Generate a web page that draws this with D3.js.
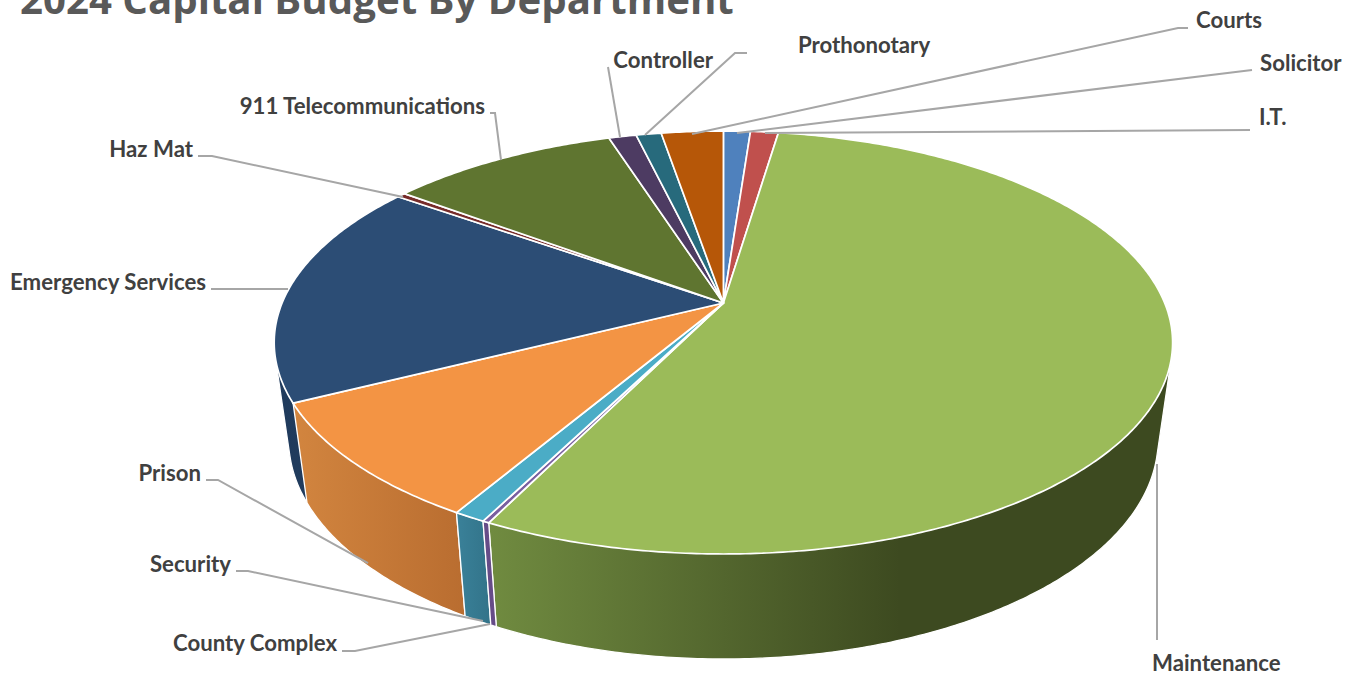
<!DOCTYPE html>
<html><head><meta charset="utf-8">
<script src="https://cdn.jsdelivr.net/npm/d3@7"></script>
<style>html,body{margin:0;padding:0;background:#fff;overflow:hidden}svg{display:block}</style>
</head><body><svg id="c" width="1353" height="675"></svg>
<script>
// ---- data (share of budget, %)
const titleText = "2024 Capital Budget By Department";
const departments = ["Solicitor","I.T.","Maintenance","County Complex","Security","Prison","Emergency Services","Haz Mat","911 Telecommunications","Controller","Prothonotary","Courts"];
const shares = [1.16,1.2,54.9,0.2,0.97,9.1,17.2,0.36,9.9,1.19,1.08,2.67];

// ---- styles
const topColors = ["#4f81bd","#c0504d","#9bbb59","#7a5fa0","#4bacc6","#f39444","#2c4d75","#772c2a","#5f7530","#4d3b62","#276a7c","#b65708"];
const wallColors = [["#3c628f","#3c628f"],["#8f3c3a","#8f3c3a"],["#708b40","#3d4a20"],["#664c88","#664c88"],["#3a8199","#327389"],["#d2853f","#b96d30"],["#1f3a5c","#24405f"],["#5a2120","#5a2120"],["#46581f","#46581f"],["#3a2c4a","#3a2c4a"],["#1d505d","#1d505d"],["#884106","#884106"]];
const labelPos = {
  "Solicitor":[1260,71,"start"],"I.T.":[1259,125,"start"],"Maintenance":[1152,671,"start"],
  "County Complex":[337,651,"end"],"Security":[231,572,"end"],"Prison":[201,481,"end"],
  "Emergency Services":[206,290,"end"],"Haz Mat":[193,157,"end"],"911 Telecommunications":[485,114,"end"],
  "Controller":[713,68,"end"],"Prothonotary":[798,53,"start"],"Courts":[1196,28,"start"]};
const leaderPaths = {
  "Solicitor":[[1252,70],[737,133]],"I.T.":[[1250,130],[765,133]],"Maintenance":[[1157,640],[1157,464]],
  "County Complex":[[342,651],[355,651],[490,624]],"Security":[[236,571],[248,571],[483,621]],"Prison":[[206,480],[218,480],[368,563]],
  "Emergency Services":[[211,289],[288,289]],"Haz Mat":[[198,156],[212,156],[403,197]],"911 Telecommunications":[[490,113],[495,113],[501,160]],
  "Controller":[[608,67],[620,137]],"Prothonotary":[[747,53],[735,53],[645,135]],"Courts":[[1188,28],[1178,28],[692,134]]};

// ---- projection of the disc (perspective tilt)
const k = -0.1868;
const topDisc = {c:441.3, a:147.5, b:303};
const botDisc = {c:427, a:136.8, b:399.1};
const cx = 723.4;
const project = (d, t) => {
  const x = Math.sin(t), y = -Math.cos(t), w = 1 + k*y;
  return [cx + d.c*x/w, (d.a*y + d.b)/w];
};

const svg = d3.select("#c");
const defs = svg.append("defs");
const arcs = d3.pie().sort(null).startAngle(0).endAngle(2*Math.PI)(shares);
const line = d3.line();
const sample = (a) => {
  const n = Math.max(4, Math.ceil((a.endAngle-a.startAngle)/0.01));
  return d3.range(n+1).map(i => a.startAngle + (a.endAngle-a.startAngle)*i/n);
};

// walls, back to front
const order = d3.range(arcs.length).sort((i,j) =>
  project(topDisc,(arcs[i].startAngle+arcs[i].endAngle)/2)[1] - project(topDisc,(arcs[j].startAngle+arcs[j].endAngle)/2)[1]);
order.forEach(i => {
  const a = arcs[i], ts = sample(a);
  const pts = d3.polygonHull(ts.map(t => project(topDisc,t)).concat(ts.map(t => project(botDisc,t))));
  const xs = pts.map(p => p[0]);
  let x1 = d3.min(xs), x2 = d3.max(xs);
  if (departments[i] === "Maintenance") { x1 = 490; x2 = 900; }
  const g = defs.append("linearGradient").attr("id","w"+i).attr("gradientUnits","userSpaceOnUse")
    .attr("x1",x1).attr("x2",x2).attr("y1",0).attr("y2",0);
  g.append("stop").attr("offset",0).attr("stop-color",wallColors[i][0]);
  g.append("stop").attr("offset",1).attr("stop-color",wallColors[i][1]);
  svg.append("path").attr("d",line(pts)+"Z").attr("fill",`url(#w${i})`)
    .attr("stroke","#fff").attr("stroke-width",1.3).attr("stroke-linejoin","round");
});

// top slices
arcs.forEach((a,i) => {
  const pts = [[cx, topDisc.b]].concat(sample(a).map(t => project(topDisc,t)));
  svg.append("path").attr("d",line(pts)+"Z").attr("fill",topColors[i])
    .attr("stroke","#fff").attr("stroke-width",1.7).attr("stroke-linejoin","round");
});

// leaders
departments.forEach(d => {
  svg.append("path").attr("d",line(leaderPaths[d])).attr("fill","none")
    .attr("stroke","#a6a6a6").attr("stroke-width",2);
});

// labels
departments.forEach(d => {
  const p = labelPos[d];
  svg.append("text").attr("x",p[0]).attr("y",p[1]).attr("text-anchor",p[2])
    .attr("font-family","Lato").attr("font-weight",700).attr("font-size",22.2)
    .attr("fill","#404040").text(d);
});

// title
svg.append("text").attr("x",20).attr("y",14)
  .attr("font-family","'Open Sans'").attr("font-weight",700).attr("font-size",40.2)
  .attr("fill","#595959").text(titleText);
</script></body></html>
